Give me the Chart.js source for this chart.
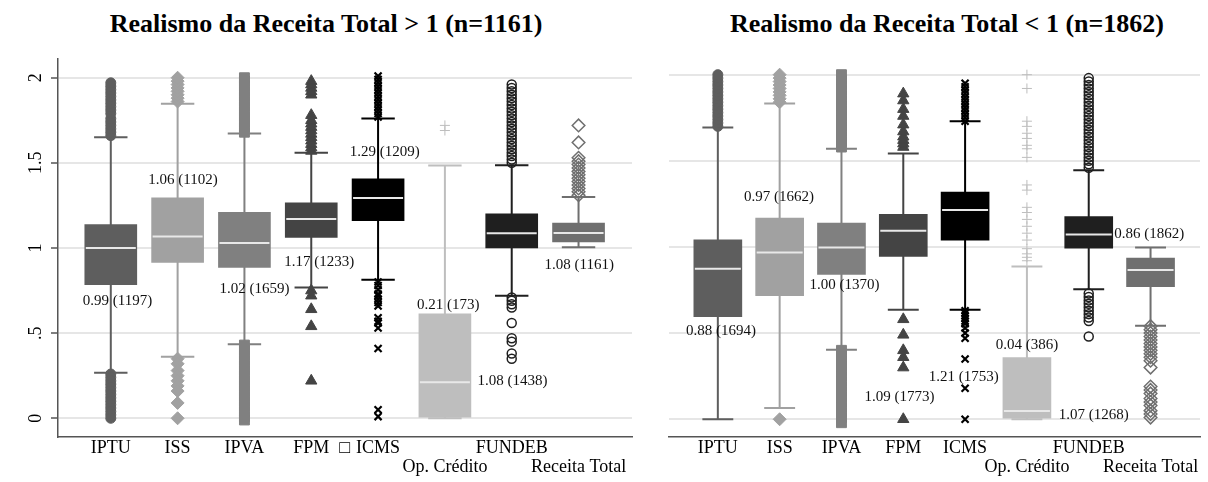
<!DOCTYPE html>
<html>
<head>
<meta charset="utf-8">
<script src="https://cdn.jsdelivr.net/npm/chart.js@4"></script>
<style>
  html, body { margin: 0; padding: 0; background: #fff; width: 1208px; height: 482px; overflow: hidden; }
  canvas { position: absolute; top: 0; }
  #left { left: 0; }
  #right { left: 660px; }
  .title { position: absolute; top: 11px; font: bold 26px "Liberation Serif", "Times New Roman", serif; line-height: 26px; white-space: nowrap; transform: translateX(-50%); color: #000; }
</style>
</head>
<body>
<div class="title" style="left:326px">Realismo da Receita Total &gt; 1 (n=1161)</div>
<div class="title" style="left:947px">Realismo da Receita Total &lt; 1 (n=1862)</div>
<canvas id="left" width="640" height="482"></canvas>
<canvas id="right" width="548" height="482"></canvas>
<script>
// categories, in plot order
const categories = ['IPTU', 'ISS', 'IPVA', 'FPM', 'ICMS', 'Op. Crédito', 'FUNDEB', 'Receita Total'];
const yTicks = [0, 0.5, 1, 1.5, 2];

// Realismo > 1 (n=1161)
const leftQ1   = [0.784, 0.915, 0.886, 1.062, 1.161, 0.000, 1.000, 1.035];
const leftMed  = [1.000, 1.068, 1.030, 1.170, 1.294, 0.212, 1.086, 1.088];
const leftQ3   = [1.137, 1.294, 1.210, 1.265, 1.406, 0.614, 1.200, 1.147];
const leftLow  = [0.268, 0.362, 0.435, 0.768, 0.814, 0.000, 0.720, 1.004];
const leftHigh = [1.650, 1.847, 1.672, 1.559, 1.761, 1.484, 1.486, 1.300];
const leftOutliers = [
  [1.66, 1.68, 1.70, 1.72, 1.74, 1.76, 1.79, 1.81, 1.83, 1.85, 1.87, 1.89, 1.91, 1.93, 1.95, 1.97,
   0.26, 0.24, 0.22, 0.20, 0.18, 0.16, 0.14, 0.12, 0.10, 0.08, 0.06, 0.04, 0.02, 0.00],
  [1.86, 1.88, 1.90, 1.92, 1.94, 1.96, 1.98, 2.00,
   0.35, 0.32, 0.28, 0.25, 0.22, 0.19, 0.16, 0.09, 0.00],
  [1.68, 1.71, 1.74, 1.77, 1.80, 1.83, 1.86, 1.89, 1.92, 1.95, 1.98, 2.00,
   0.43, 0.40, 0.37, 0.34, 0.31, 0.28, 0.25, 0.22, 0.19, 0.16, 0.13, 0.10, 0.07, 0.04, 0.01, -0.01],
  [1.57, 1.59, 1.61, 1.63, 1.65, 1.67, 1.69, 1.71, 1.73, 1.75, 1.78,
   1.90, 1.92, 1.94, 1.96, 1.98,
   0.75, 0.72, 0.64, 0.54, 0.22],
  [1.77, 1.79, 1.81, 1.83, 1.85, 1.87, 1.89, 1.91, 1.93, 1.95, 1.97, 1.99, 2.01,
   0.80, 0.78, 0.755, 0.73, 0.72, 0.70, 0.68, 0.66, 0.59, 0.57, 0.56, 0.53, 0.41, 0.05, 0.01],
  [1.69, 1.72],
  [1.50, 1.52, 1.54, 1.56, 1.58, 1.60, 1.62, 1.64, 1.66, 1.68, 1.70, 1.72, 1.74, 1.76, 1.78, 1.80,
   1.82, 1.84, 1.86, 1.88, 1.90, 1.92, 1.94, 1.96,
   0.71, 0.69, 0.67, 0.65, 0.56, 0.47, 0.45, 0.38, 0.35],
  [1.31, 1.33, 1.35, 1.37, 1.39, 1.41, 1.43, 1.45, 1.47, 1.49, 1.51, 1.53, 1.62, 1.72]
];
const leftLabelText = ['0.99 (1197)', '1.06 (1102)', '1.02 (1659)', '1.17 (1233)', '1.29 (1209)', '0.21 (173)', '1.08 (1438)', '1.08 (1161)'];
const leftLabelX = [1.10, 2.08, 3.15, 4.12, 5.10, 6.05, 7.01, 8.01];
const leftLabelY = [0.686, 1.398, 0.759, 0.915, 1.563, 0.666, 0.221, 0.898];
const leftTickPos = [1, 2, 3, 4, 4.5, 5, 6, 7, 8];
const leftTickText = ['IPTU', 'ISS', 'IPVA', 'FPM', '\u25A1', 'ICMS', ['', 'Op. Crédito'], 'FUNDEB', ['', 'Receita Total']];

// Realismo < 1 (n=1862)
const rightQ1   = [0.596, 0.718, 0.840, 0.945, 1.040, 0.000, 0.993, 0.770];
const rightMed  = [0.873, 0.968, 0.997, 1.094, 1.214, 0.048, 1.072, 0.866];
const rightQ3   = [1.041, 1.167, 1.138, 1.190, 1.318, 0.358, 1.177, 0.935];
const rightLow  = [0.000, 0.066, 0.403, 0.635, 0.635, 0.000, 0.755, 0.542];
const rightHigh = [1.694, 1.832, 1.570, 1.543, 1.729, 0.887, 1.446, 0.997];
const rightOutliers = [
  [1.70, 1.72, 1.74, 1.76, 1.78, 1.80, 1.82, 1.84, 1.86, 1.88, 1.90, 1.92, 1.94, 1.96, 1.98, 2.00],
  [1.84, 1.86, 1.88, 1.90, 1.92, 1.94, 1.96, 1.98, 2.00, 0.00],
  [1.58, 1.61, 1.64, 1.67, 1.70, 1.73, 1.76, 1.79, 1.82, 1.85, 1.88, 1.91, 1.94, 1.97, 2.00,
   0.40, 0.37, 0.34, 0.31, 0.28, 0.25, 0.22, 0.19, 0.16, 0.13, 0.10, 0.07, 0.04, 0.01, -0.02],
  [1.58, 1.60, 1.62, 1.64, 1.67, 1.71, 1.76, 1.80, 1.85, 1.89,
   0.58, 0.49, 0.40, 0.36, 0.30, 0.00],
  [1.73, 1.75, 1.77, 1.79, 1.81, 1.83, 1.85, 1.87, 1.89, 1.91, 1.93, 1.95,
   0.63, 0.615, 0.60, 0.585, 0.57, 0.555, 0.53, 0.50, 0.47, 0.35, 0.18, 0.00],
  [2.00, 1.92, 1.73, 1.70, 1.66, 1.63, 1.59, 1.57, 1.52, 1.36, 1.33,
   1.23, 1.20, 1.16, 1.12, 1.08, 1.04, 0.99, 0.96, 0.94, 0.92],
  [1.46, 1.48, 1.50, 1.52, 1.54, 1.56, 1.58, 1.60, 1.62, 1.64, 1.66, 1.68, 1.70, 1.72, 1.74, 1.76,
   1.78, 1.80, 1.82, 1.84, 1.86, 1.88, 1.90, 1.92, 1.94, 1.96, 1.98,
   0.73, 0.71, 0.69, 0.67, 0.65, 0.63, 0.61, 0.59, 0.57, 0.48],
  [0.54, 0.52, 0.50, 0.48, 0.46, 0.44, 0.42, 0.40, 0.38, 0.36, 0.34, 0.30,
   0.19, 0.17, 0.15, 0.12, 0.10, 0.08, 0.05, 0.03, 0.01]
];
const rightLabelText = ['0.88 (1694)', '0.97 (1662)', '1.00 (1370)', '1.09 (1773)', '1.21 (1753)', '0.04 (386)', '1.07 (1268)', '0.86 (1862)'];
const rightLabelX = [1.05, 1.99, 3.05, 3.94, 4.98, 6.00, 7.08, 7.98];
const rightLabelY = [0.513, 1.287, 0.776, 0.131, 0.242, 0.432, 0.025, 1.075];
const rightTickPos = [1, 2, 3, 4, 5, 6, 7, 8];
const rightTickText = ['IPTU', 'ISS', 'IPVA', 'FPM', 'ICMS', ['', 'Op. Crédito'], 'FUNDEB', ['', 'Receita Total']];

// look of each category
const boxColors = ['#5e5e5e', '#a1a1a1', '#808080', '#444444', '#000000', '#bebebe', '#1f1f1f', '#6f6f6f'];
const markerStyle = ['circle', 'rectRot', 'rect', 'triangle', 'crossRot', 'cross', 'circle', 'rectRot'];
const markerRadius = [5, 6.5, 7, 6.5, 5, 5, 4.5, 6.3];
const markerHollow = [false, false, false, false, false, false, true, true];

const serif = '"Liberation Serif", "Times New Roman", serif';

// whiskers + caps under the boxes, medians on top of them, value labels last
const boxPlotPlugin = {
  id: 'boxPlot',
  beforeDatasetsDraw(chart) {
    const p = chart.config.options.plugins.boxPlot;
    const { ctx, scales: { x, y } } = chart;
    ctx.save();
    ctx.lineWidth = 2;
    p.low.forEach((lo, i) => {
      const cx = x.getPixelForValue(i + 1);
      const half = x.getPixelForValue(i + 1.25) - cx;
      ctx.strokeStyle = boxColors[i];
      ctx.beginPath();
      ctx.moveTo(cx, y.getPixelForValue(lo));
      ctx.lineTo(cx, y.getPixelForValue(p.high[i]));
      [lo, p.high[i]].forEach(v => {
        ctx.moveTo(cx - half, y.getPixelForValue(v));
        ctx.lineTo(cx + half, y.getPixelForValue(v));
      });
      ctx.stroke();
    });
    ctx.restore();
  },
  afterDatasetDraw(chart, args) {
    if (args.meta.type !== 'bar') return;
    const p = chart.config.options.plugins.boxPlot;
    const { ctx, scales: { y } } = chart;
    ctx.save();
    ctx.strokeStyle = '#e8e8e8';
    ctx.lineWidth = 2;
    args.meta.data.forEach((bar, i) => {
      const py = y.getPixelForValue(p.median[i]);
      ctx.beginPath();
      ctx.moveTo(bar.x - bar.width / 2 + 1, py);
      ctx.lineTo(bar.x + bar.width / 2 - 1, py);
      ctx.stroke();
    });
    ctx.restore();
  },
  afterDatasetsDraw(chart) {
    const p = chart.config.options.plugins.boxPlot;
    const { ctx, scales: { x, y } } = chart;
    ctx.save();
    ctx.font = `15px ${serif}`;
    ctx.fillStyle = '#111';
    ctx.textAlign = 'center';
    ctx.textBaseline = 'middle';
    p.labelText.forEach((t, i) => {
      ctx.fillText(t, x.getPixelForValue(p.labelX[i]), y.getPixelForValue(p.labelY[i]));
    });
    ctx.restore();
  }
};

function makePanel(id, d) {
  const datasets = [{
    type: 'bar',
    order: 10,
    data: categories.map((c, i) => ({ x: i + 1, y: [d.q1[i], d.q3[i]] })),
    backgroundColor: boxColors,
    borderWidth: 0,
    barThickness: d.boxWidth
  }];
  d.outliers.forEach((vals, i) => {
    datasets.push({
      type: 'scatter',
      order: 0,
      data: vals.map(v => ({ x: i + 1, y: v })),
      pointStyle: markerStyle[i],
      pointRadius: markerRadius[i],
      backgroundColor: markerHollow[i] ? 'rgba(0,0,0,0)' : boxColors[i],
      borderColor: boxColors[i],
      borderWidth: markerStyle[i] === 'crossRot' ? 2.2 : (markerHollow[i] ? 1.5 : 1)
    });
  });

  return new Chart(document.getElementById(id), {
    type: 'bar',
    data: { datasets },
    plugins: [boxPlotPlugin],
    options: {
      responsive: false,
      animation: false,
      events: [],
      layout: { padding: { top: 59, right: d.padRight, left: 0, bottom: 0 } },
      plugins: {
        legend: { display: false },
        tooltip: { enabled: false },
        boxPlot: {
          low: d.low, high: d.high, median: d.med,
          labelText: d.labelText, labelX: d.labelX, labelY: d.labelY
        }
      },
      scales: {
        x: {
          type: 'linear',
          min: 0.21,
          max: 8.8,
          offset: false,
          grid: { display: false, drawTicks: false },
          border: { display: true, color: '#555', width: 1.5 },
          afterBuildTicks: s => { s.ticks = d.tickPos.map(v => ({ value: v })); },
          afterFit: s => { s.height = 45; },
          ticks: {
            autoSkip: false,
            maxRotation: 0,
            padding: 1,
            color: '#000',
            font: { family: serif, size: 18, lineHeight: 1.1 },
            callback: (v, i) => d.tickText[i]
          }
        },
        y: {
          min: d.yMin,
          max: d.yMax,
          grid: { color: '#e6e6e6', lineWidth: 2, drawTicks: d.showY, tickLength: 7, tickColor: '#555', tickWidth: 1.5 },
          border: { display: d.showY, color: '#555', width: 1.5 },
          afterBuildTicks: s => { s.ticks = yTicks.map(v => ({ value: v })); },
          afterFit: s => { s.width = d.axisWidth; },
          ticks: {
            display: d.showY,
            minRotation: 90,
            maxRotation: 90,
            crossAlign: 'center',
            padding: 3,
            color: '#000',
            font: { family: serif, size: 18 },
            callback: v => String(v).replace(/^0\./, '.')
          }
        }
      }
    }
  });
}

makePanel('left', {
  q1: leftQ1, med: leftMed, q3: leftQ3, low: leftLow, high: leftHigh, outliers: leftOutliers,
  labelText: leftLabelText, labelX: leftLabelX, labelY: leftLabelY,
  tickPos: leftTickPos, tickText: leftTickText,
  yMin: -0.11, yMax: 2.11, showY: true, axisWidth: 58, padRight: 8, boxWidth: 52
});

makePanel('right', {
  q1: rightQ1, med: rightMed, q3: rightQ3, low: rightLow, high: rightHigh, outliers: rightOutliers,
  labelText: rightLabelText, labelX: rightLabelX, labelY: rightLabelY,
  tickPos: rightTickPos, tickText: rightTickText,
  yMin: -0.103, yMax: 2.091, showY: false, axisWidth: 9, padRight: 2, boxWidth: 48
});
</script>
</body>
</html>
